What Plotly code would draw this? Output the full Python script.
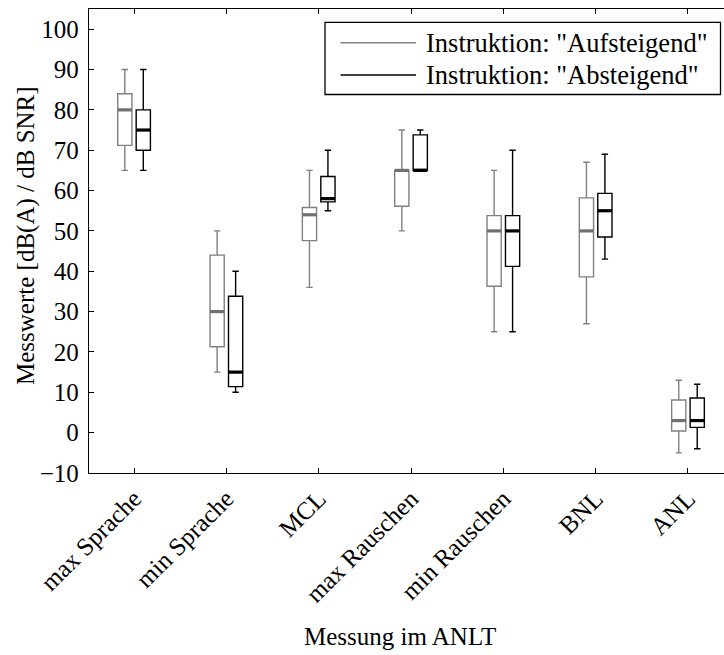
import plotly.graph_objects as go

# Measurements of the ANLT procedure
categories = ["max Sprache", "min Sprache", "MCL", "max Rauschen",
              "min Rauschen", "BNL", "ANL"]
y_ticks = [-10, 0, 10, 20, 30, 40, 50, 60, 70, 80, 90, 100]

# Five-number summaries, instruction "Aufsteigend"
auf_low = [65, 15, 36, 50, 25, 27, -5]
auf_q1 = [71.2, 21.3, 47.6, 56.1, 36.3, 38.6, 0.4]
auf_med = [80, 30, 54, 65, 50, 50, 3]
auf_q3 = [84, 44, 55.8, 65, 53.8, 58.2, 8.1]
auf_high = [90, 50, 65, 75, 65, 67, 13]

# Five-number summaries, instruction "Absteigend"
ab_low = [65, 10, 55, 65, 25, 43, -4]
ab_q1 = [70, 11.4, 57.2, 65, 41.2, 48.5, 1.3]
ab_med = [75, 15, 58, 65, 50, 55, 3]
ab_q3 = [80, 33.8, 63.5, 73.8, 53.8, 59.3, 8.6]
ab_high = [90, 40, 70, 75, 70, 69, 12]

legend_labels = ['Instruktion: "Aufsteigend"', 'Instruktion: "Absteigend"']

FONT = "Liberation Serif"
FS = 25
GRAY = "rgb(128,128,128)"
GRAY_MED = "rgb(112,112,112)"
BLACK = "black"
BOX_W = 0.154
OFFSET = 0.1

W, H = 724, 655
ML, MR, MT, MB = 89, 0, 9, 182
PW, PH = W - ML - MR, H - MT - MB


def px(x):
    return (x - ML) / PW


def py(y):
    return (H - MB - y) / PH


centers = list(range(1, len(categories) + 1))
pos_auf = [c - OFFSET for c in centers]
pos_ab = [c + OFFSET for c in centers]

fig = go.Figure()


def add_group(pos, low, q1, med, q3, high, color, med_color):
    fig.add_trace(go.Box(
        x=pos, q1=q1, median=med, q3=q3, lowerfence=low, upperfence=high,
        width=BOX_W, whiskerwidth=0.45, boxpoints=False,
        line=dict(color=color, width=1.4), fillcolor="white",
        showlegend=False, hoverinfo="skip",
    ))
    mx, my = [], []
    for p, m in zip(pos, med):
        mx += [p - BOX_W / 2, p + BOX_W / 2, None]
        my += [m, m, None]
    fig.add_trace(go.Scatter(
        x=mx, y=my, mode="lines", line=dict(color=med_color, width=3.2),
        showlegend=False, hoverinfo="skip",
    ))


add_group(pos_auf, auf_low, auf_q1, auf_med, auf_q3, auf_high, GRAY, GRAY_MED)
add_group(pos_ab, ab_low, ab_q1, ab_med, ab_q3, ab_high, BLACK, BLACK)

# Legend frame, sample lines and labels
shapes = [dict(type="rect", xref="paper", yref="paper",
               x0=px(325), x1=px(720.5), y0=py(94.5), y1=py(22.3),
               line=dict(color="black", width=1.3), fillcolor="white", layer="above")]
annotations = []
for i, (lbl, col) in enumerate(zip(legend_labels, [GRAY, BLACK])):
    ly = py(42.7 + i * 32.3)
    shapes.append(dict(type="line", xref="paper", yref="paper",
                       x0=px(340.5), x1=px(416), y0=ly, y1=ly,
                       line=dict(color=col, width=1.4), layer="above"))
    annotations.append(dict(text=lbl, xref="paper", yref="paper",
                            x=px(424), y=ly, xanchor="left", yanchor="middle",
                            showarrow=False, font=dict(family=FONT, size=26.5, color="black")))

annotations.append(dict(text="Messung im ANLT", xref="paper", yref="paper",
                        x=px(400), y=py(636), xanchor="center", yanchor="middle",
                        showarrow=False, font=dict(family=FONT, size=FS, color="black")))
annotations.append(dict(text="Messwerte [dB(A) / dB SNR]", xref="paper", yref="paper",
                        x=px(26), y=py(236), xanchor="center", yanchor="middle",
                        textangle=-90, showarrow=False,
                        font=dict(family=FONT, size=FS, color="black")))

fig.update_layout(
    width=W, height=H,
    margin=dict(l=ML, r=MR, t=MT, b=MB, pad=0),
    paper_bgcolor="white", plot_bgcolor="white",
    font=dict(family=FONT, size=FS, color="black"),
    shapes=shapes, annotations=annotations,
    showlegend=False,
)
fig.update_xaxes(
    range=[0.512, 7.39], tickmode="array", tickvals=centers, ticktext=categories,
    tickangle=-45, ticks="inside", ticklen=5, tickwidth=1.2, tickcolor="black",
    showline=True, linecolor="black", linewidth=1.3, mirror="ticks",
    showgrid=False, zeroline=False, fixedrange=True,
)
fig.update_yaxes(
    range=[-10, 105], tickmode="array", tickvals=y_ticks,
    ticks="inside", ticklen=5, tickwidth=1.2, tickcolor="black",
    showline=True, linecolor="black", linewidth=1.3, mirror=False,
    showgrid=False, zeroline=False, fixedrange=True, ticklabelstandoff=4,
)

fig.write_html("out.html")
